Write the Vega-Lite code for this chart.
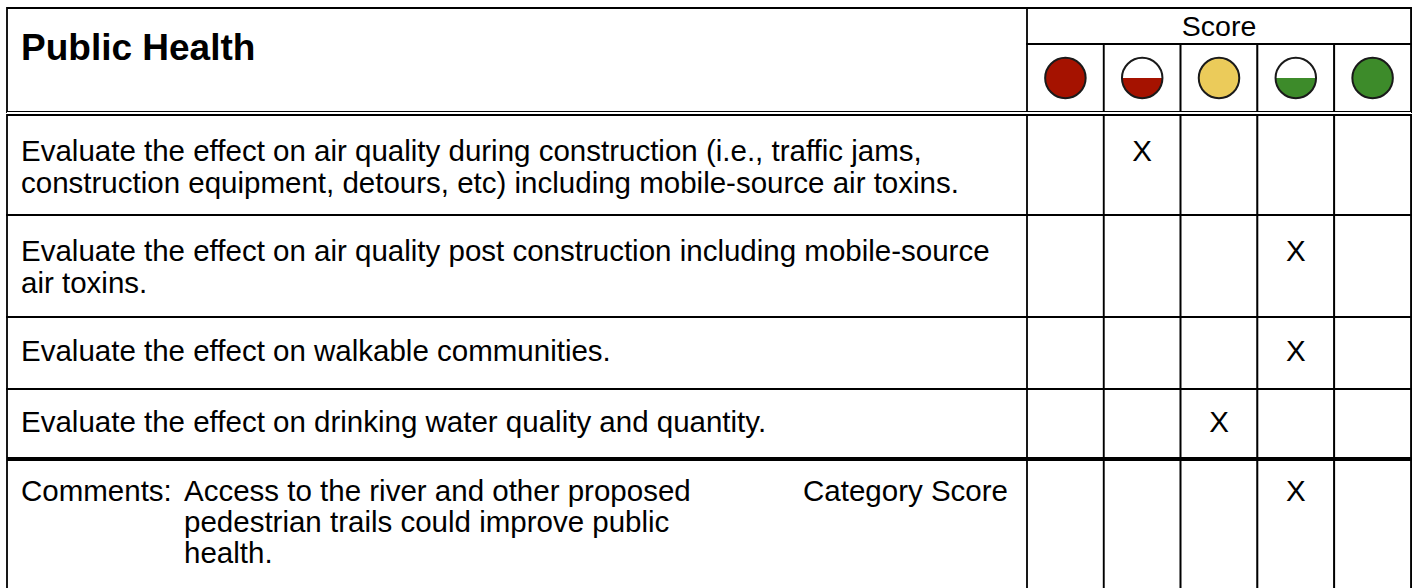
{
  "$schema": "https://vega.github.io/schema/vega-lite/v6.json",
  "background": "white",
  "padding": {"left": 6, "top": 6, "right": 0, "bottom": 0},
  "config": {
    "view": {"stroke": "black", "strokeWidth": 1.8},
    "concat": {"spacing": 0},
    "text": {"font": "Liberation Sans", "fontSize": 29.5, "color": "black"}
  },
  "datasets": {
    "levels": [
      {"level": "Poor"},
      {"level": "Somewhat poor"},
      {"level": "Neutral"},
      {"level": "Somewhat good"},
      {"level": "Good"}
    ],
    "items": [
      {"row": 1, "text": "Evaluate the effect on air quality during construction (i.e., traffic jams,\nconstruction equipment, detours, etc) including mobile-source air toxins.", "score": "Somewhat poor"},
      {"row": 2, "text": "Evaluate the effect on air quality post construction including mobile-source\nair toxins.", "score": "Somewhat good"},
      {"row": 3, "text": "Evaluate the effect on walkable communities.", "score": "Somewhat good"},
      {"row": 4, "text": "Evaluate the effect on drinking water quality and quantity.", "score": "Neutral"},
      {"row": 5, "text": "Access to the river and other proposed\npedestrian trails could improve public\nhealth.", "score": "Somewhat good"}
    ]
  },
  "bounds": "flush",
  "spacing": 0,
  "vconcat": [
    {
      "width": 1404, "height": 104,
      "resolve": {"scale": {"x": "independent"}},
      "layer": [
        {
          "data": {"values": [{"title": "Public Health"}]},
          "mark": {"type": "text", "align": "left", "baseline": "middle", "fontSize": 37, "fontWeight": "bold", "dx": 14, "dy": -11},
          "encoding": {
            "x": {"datum": 0, "type": "quantitative", "scale": {"domain": [0, 1], "range": [0, 1020]}, "axis": null},
            "text": {"field": "title"}
          }
        },
        {
          "data": {"values": [{"label": "Score"}]},
          "mark": {"type": "rect", "fill": "white", "stroke": "black", "strokeWidth": 1.8},
          "encoding": {
            "x": {"datum": 0, "type": "quantitative", "scale": {"domain": [0, 1], "range": [1020, 1404]}, "axis": null},
            "x2": {"datum": 1},
            "y": {"datum": 0, "type": "quantitative", "scale": {"domain": [0, 26], "reverse": true}, "axis": null},
            "y2": {"datum": 9}
          }
        },
        {
          "data": {"values": [{"label": "Score"}]},
          "mark": {"type": "text", "baseline": "middle", "fontSize": 28.5, "dy": 1},
          "encoding": {
            "x": {"datum": 0.5, "type": "quantitative", "scale": {"domain": [0, 1], "range": [1020, 1404]}, "axis": null},
            "y": {"datum": 4.5, "type": "quantitative", "axis": null},
            "text": {"field": "label"}
          }
        },
        {
          "data": {"name": "levels"},
          "mark": {"type": "rect", "fill": "white", "stroke": "black", "strokeWidth": 1.8},
          "encoding": {
            "x": {"field": "level", "type": "nominal", "scale": {"type": "band", "domain": ["Poor", "Somewhat poor", "Neutral", "Somewhat good", "Good"], "range": [1020, 1404], "paddingInner": 0, "paddingOuter": 0}, "axis": null},
            "y": {"datum": 9, "type": "quantitative", "axis": null},
            "y2": {"datum": 26}
          }
        },
        {
          "data": {"name": "levels"},
          "mark": {"type": "point", "shape": "circle", "filled": true, "fill": "white", "strokeWidth": 0, "size": 1640, "opacity": 1},
          "encoding": {
            "x": {"field": "level", "type": "nominal", "scale": {"type": "band", "domain": ["Poor", "Somewhat poor", "Neutral", "Somewhat good", "Good"], "range": [1020, 1404], "paddingInner": 0, "paddingOuter": 0}, "axis": null},
            "y": {"datum": 17.5, "type": "quantitative", "axis": null}
          }
        },
        {
          "data": {"name": "levels"},
          "mark": {"type": "point", "filled": true, "size": 1640, "opacity": 1, "strokeWidth": 0},
          "encoding": {
            "x": {"field": "level", "type": "nominal", "scale": {"type": "band", "domain": ["Poor", "Somewhat poor", "Neutral", "Somewhat good", "Good"], "range": [1020, 1404], "paddingInner": 0, "paddingOuter": 0}, "axis": null},
            "y": {"datum": 17.5, "type": "quantitative", "axis": null},
            "shape": {"field": "level", "type": "nominal", "scale": {"domain": ["Poor", "Somewhat poor", "Neutral", "Somewhat good", "Good"], "range": ["circle", "M -1 0 A 1 1 0 0 0 1 0 Z", "circle", "M -1 0 A 1 1 0 0 0 1 0 Z", "circle"]}, "legend": null},
            "fill": {"field": "level", "type": "nominal", "scale": {"domain": ["Poor", "Somewhat poor", "Neutral", "Somewhat good", "Good"], "range": ["#A51200", "#A51200", "#EBCB5A", "#3D8B2A", "#3D8B2A"]}, "legend": null}
          }
        },
        {
          "data": {"name": "levels"},
          "mark": {"type": "point", "shape": "circle", "filled": false, "stroke": "#1a1a1a", "strokeWidth": 2, "size": 1640, "opacity": 1},
          "encoding": {
            "x": {"field": "level", "type": "nominal", "scale": {"type": "band", "domain": ["Poor", "Somewhat poor", "Neutral", "Somewhat good", "Good"], "range": [1020, 1404], "paddingInner": 0, "paddingOuter": 0}, "axis": null},
            "y": {"datum": 17.5, "type": "quantitative", "axis": null}
          }
        }
      ]
    },
    {
      "width": 1404, "height": 2.5,
      "view": {"fill": "white", "stroke": null},
      "data": {"values": [{}]},
      "mark": {"type": "text", "text": ""},
      "encoding": {}
    },
    {
      "width": 1404, "height": 100,
      "resolve": {"scale": {"x": "independent"}},
      "layer": [
        {"data": {"name": "items"}, "transform": [{"filter": "datum.row == 1"}],
         "mark": {"type": "text", "align": "left", "baseline": "middle", "lineBreak": "\n", "lineHeight": 32, "dx": 14, "dy": -13},
         "encoding": {"x": {"datum": 0, "type": "quantitative", "scale": {"domain": [0, 1], "range": [0, 1020]}, "axis": null}, "text": {"field": "text"}}},
        {"data": {"name": "levels"}, "mark": {"type": "rect", "fill": "white", "stroke": "black", "strokeWidth": 1.8},
         "encoding": {"x": {"field": "level", "type": "nominal", "scale": {"type": "band", "domain": ["Poor", "Somewhat poor", "Neutral", "Somewhat good", "Good"], "range": [1020, 1404], "paddingInner": 0, "paddingOuter": 0}, "axis": null}}},
        {"data": {"name": "items"}, "transform": [{"filter": "datum.row == 1"}],
         "mark": {"type": "text", "baseline": "middle", "dy": -13},
         "encoding": {"x": {"field": "score", "type": "nominal", "scale": {"type": "band", "domain": ["Poor", "Somewhat poor", "Neutral", "Somewhat good", "Good"], "range": [1020, 1404], "paddingInner": 0, "paddingOuter": 0}, "axis": null}, "text": {"value": "X"}}}
      ]
    },
    {
      "width": 1404, "height": 102,
      "resolve": {"scale": {"x": "independent"}},
      "layer": [
        {"data": {"name": "items"}, "transform": [{"filter": "datum.row == 2"}],
         "mark": {"type": "text", "align": "left", "baseline": "middle", "lineBreak": "\n", "lineHeight": 32, "dx": 14, "dy": -14},
         "encoding": {"x": {"datum": 0, "type": "quantitative", "scale": {"domain": [0, 1], "range": [0, 1020]}, "axis": null}, "text": {"field": "text"}}},
        {"data": {"name": "levels"}, "mark": {"type": "rect", "fill": "white", "stroke": "black", "strokeWidth": 1.8},
         "encoding": {"x": {"field": "level", "type": "nominal", "scale": {"type": "band", "domain": ["Poor", "Somewhat poor", "Neutral", "Somewhat good", "Good"], "range": [1020, 1404], "paddingInner": 0, "paddingOuter": 0}, "axis": null}}},
        {"data": {"name": "items"}, "transform": [{"filter": "datum.row == 2"}],
         "mark": {"type": "text", "baseline": "middle", "dy": -14},
         "encoding": {"x": {"field": "score", "type": "nominal", "scale": {"type": "band", "domain": ["Poor", "Somewhat poor", "Neutral", "Somewhat good", "Good"], "range": [1020, 1404], "paddingInner": 0, "paddingOuter": 0}, "axis": null}, "text": {"value": "X"}}}
      ]
    },
    {
      "width": 1404, "height": 72,
      "resolve": {"scale": {"x": "independent"}},
      "layer": [
        {"data": {"name": "items"}, "transform": [{"filter": "datum.row == 3"}],
         "mark": {"type": "text", "align": "left", "baseline": "middle", "dx": 14, "dy": -1},
         "encoding": {"x": {"datum": 0, "type": "quantitative", "scale": {"domain": [0, 1], "range": [0, 1020]}, "axis": null}, "text": {"field": "text"}}},
        {"data": {"name": "levels"}, "mark": {"type": "rect", "fill": "white", "stroke": "black", "strokeWidth": 1.8},
         "encoding": {"x": {"field": "level", "type": "nominal", "scale": {"type": "band", "domain": ["Poor", "Somewhat poor", "Neutral", "Somewhat good", "Good"], "range": [1020, 1404], "paddingInner": 0, "paddingOuter": 0}, "axis": null}}},
        {"data": {"name": "items"}, "transform": [{"filter": "datum.row == 3"}],
         "mark": {"type": "text", "baseline": "middle", "dy": -1},
         "encoding": {"x": {"field": "score", "type": "nominal", "scale": {"type": "band", "domain": ["Poor", "Somewhat poor", "Neutral", "Somewhat good", "Good"], "range": [1020, 1404], "paddingInner": 0, "paddingOuter": 0}, "axis": null}, "text": {"value": "X"}}}
      ]
    },
    {
      "width": 1404, "height": 69,
      "resolve": {"scale": {"x": "independent"}},
      "layer": [
        {"data": {"name": "items"}, "transform": [{"filter": "datum.row == 4"}],
         "mark": {"type": "text", "align": "left", "baseline": "middle", "dx": 14, "dy": -1},
         "encoding": {"x": {"datum": 0, "type": "quantitative", "scale": {"domain": [0, 1], "range": [0, 1020]}, "axis": null}, "text": {"field": "text"}}},
        {"data": {"name": "levels"}, "mark": {"type": "rect", "fill": "white", "stroke": "black", "strokeWidth": 1.8},
         "encoding": {"x": {"field": "level", "type": "nominal", "scale": {"type": "band", "domain": ["Poor", "Somewhat poor", "Neutral", "Somewhat good", "Good"], "range": [1020, 1404], "paddingInner": 0, "paddingOuter": 0}, "axis": null}}},
        {"data": {"name": "items"}, "transform": [{"filter": "datum.row == 4"}],
         "mark": {"type": "text", "baseline": "middle", "dy": -1},
         "encoding": {"x": {"field": "score", "type": "nominal", "scale": {"type": "band", "domain": ["Poor", "Somewhat poor", "Neutral", "Somewhat good", "Good"], "range": [1020, 1404], "paddingInner": 0, "paddingOuter": 0}, "axis": null}, "text": {"value": "X"}}}
      ]
    },
    {
      "width": 1404, "height": 2,
      "view": {"fill": "black", "stroke": "black", "strokeWidth": 1},
      "data": {"values": [{}]},
      "mark": {"type": "text", "text": ""},
      "encoding": {}
    },
    {
      "width": 1404, "height": 131,
      "resolve": {"scale": {"x": "independent"}},
      "layer": [
        {"data": {"name": "items"}, "transform": [{"filter": "datum.row == 5"}],
         "mark": {"type": "text", "align": "left", "baseline": "middle", "dx": 14, "dy": -34},
         "encoding": {"x": {"datum": 0, "type": "quantitative", "scale": {"domain": [0, 1], "range": [0, 1020]}, "axis": null}, "text": {"value": "Comments:"}}},
        {"data": {"name": "items"}, "transform": [{"filter": "datum.row == 5"}],
         "mark": {"type": "text", "align": "left", "baseline": "middle", "lineBreak": "\n", "lineHeight": 31, "dx": 177, "dy": -34},
         "encoding": {"x": {"datum": 0, "type": "quantitative", "scale": {"domain": [0, 1], "range": [0, 1020]}, "axis": null}, "text": {"field": "text"}}},
        {"data": {"name": "items"}, "transform": [{"filter": "datum.row == 5"}],
         "mark": {"type": "text", "align": "right", "baseline": "middle", "dx": -19, "dy": -34},
         "encoding": {"x": {"datum": 1, "type": "quantitative", "scale": {"domain": [0, 1], "range": [0, 1020]}, "axis": null}, "text": {"value": "Category Score"}}},
        {"data": {"name": "levels"}, "mark": {"type": "rect", "fill": "white", "stroke": "black", "strokeWidth": 1.8},
         "encoding": {"x": {"field": "level", "type": "nominal", "scale": {"type": "band", "domain": ["Poor", "Somewhat poor", "Neutral", "Somewhat good", "Good"], "range": [1020, 1404], "paddingInner": 0, "paddingOuter": 0}, "axis": null}}},
        {"data": {"name": "items"}, "transform": [{"filter": "datum.row == 5"}],
         "mark": {"type": "text", "baseline": "middle", "dy": -34},
         "encoding": {"x": {"field": "score", "type": "nominal", "scale": {"type": "band", "domain": ["Poor", "Somewhat poor", "Neutral", "Somewhat good", "Good"], "range": [1020, 1404], "paddingInner": 0, "paddingOuter": 0}, "axis": null}, "text": {"value": "X"}}}
      ]
    }
  ]
}
